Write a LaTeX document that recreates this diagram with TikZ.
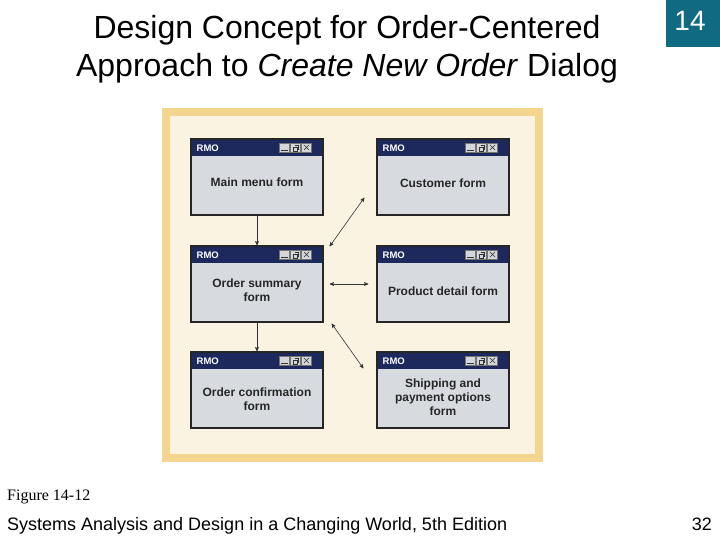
\documentclass[tikz,border=0pt]{standalone}
\usepackage{fontspec}
\setmainfont{Liberation Sans}
\newfontfamily\timesfont{Liberation Serif}
\usetikzlibrary{
  positioning,
  arrows
}
\definecolor{framegold}{HTML}{F3D590}
\definecolor{panelcream}{HTML}{FAF3E2}
\definecolor{formgray}{HTML}{D7DBE0}
\definecolor{barnavy}{HTML}{1D295C}
\definecolor{btngray}{HTML}{D4D6DA}
\definecolor{slideteal}{HTML}{0F6A82}
\tikzset{
  >=stealth',
  formwin/.style={draw=black!85, line width=1.3pt, fill=formgray,
    minimum width=132pt, minimum height=76pt, inner sep=0pt,
    path picture={
      \fill[barnavy] (path picture bounding box.north west)
        rectangle ([yshift=-17pt]path picture bounding box.north east);
      \node[anchor=west, text=white, font=\bfseries\fontsize{9.5}{10}\selectfont, inner sep=0pt,
            minimum width=0pt, minimum height=0pt, draw=none, fill=none, path picture={}]
        at ([xshift=5pt, yshift=-9.5pt]path picture bounding box.north west) {RMO};
      \foreach \bx in {-44,-33,-22}
        \draw[fill=btngray, draw=black!55, line width=.4pt]
          ([xshift=\bx pt, yshift=-4pt]path picture bounding box.north east) rectangle ++(10.5pt,-9pt);
      \draw[black!80, line width=.6pt]
        ([xshift=-42pt, yshift=-11.5pt]path picture bounding box.north east) -- ++(6.5pt,0pt);
      \draw[black!80, line width=.5pt]
        ([xshift=-30pt, yshift=-8pt]path picture bounding box.north east) rectangle ++(4pt,-4pt)
        ([xshift=-28.5pt, yshift=-6pt]path picture bounding box.north east) -- ++(4pt,0pt) -- ++(0pt,-4pt) -- ++(-1.5pt,0pt);
      \draw[black!80, line width=.6pt]
        ([xshift=-19pt, yshift=-6pt]path picture bounding box.north east) -- ++(5pt,-5pt)
        ([xshift=-14pt, yshift=-6pt]path picture bounding box.north east) -- ++(-5pt,-5pt);
    }},
  formtext/.style={font=\bfseries\fontsize{12}{14}\selectfont, text=black!85,
    align=center, inner sep=0pt},
  conn/.style={draw=black!80, line width=.6pt}
}

\begin{document}
\begin{tikzpicture}[x=1pt, y=-1pt]
  \useasboundingbox (0,0) rectangle (720,540);
  \fill[white] (0,0) rectangle (720,540);

  % slide header
  \node[font=\fontsize{32}{38}\selectfont, align=center] (title) at (347,49)
    {Design Concept for Order-Centered\\Approach to \textit{Create New Order} Dialog};
  \fill[slideteal] (666,0) rectangle (720,47);
  \node[text=white, font=\fontsize{28}{30}\selectfont] (chapter) at (690,21) {14};

  % figure panel
  \fill[framegold] (162,108) rectangle (543,462);
  \fill[panelcream] (170,116) rectangle (535,454);

  \node[formwin] (mainmenu) at (257,177) {};
  \node[formwin] (customer) at (443,177) {};
  \node[formwin] (ordersum) at (257,284) {};
  \node[formwin] (product) at (443,284) {};
  \node[formwin] (confirm) at (257,390) {};
  \node[formwin] (shipping) at (443,390) {};

  \node[formtext] (mainmenutext) at ([yshift=-5pt]mainmenu.center) {Main menu form};
  \node[formtext] (customertext) at ([yshift=-6pt]customer.center) {Customer form};
  \node[formtext] (ordersumtext) at ([yshift=-6pt]ordersum.center) {Order summary\\form};
  \node[formtext] (producttext) at ([yshift=-7pt]product.center) {Product detail form};
  \node[formtext] (confirmtext) at ([yshift=-9pt]confirm.center) {Order confirmation\\form};
  \node[formtext] (shippingtext) at ([yshift=-7pt]shipping.center) {Shipping and\\payment options\\form};

  \coordinate (cusA) at ([xshift=6pt, yshift=-1pt]ordersum.north east);
  \coordinate (cusB) at ([xshift=-12pt, yshift=18pt]customer.south west);
  \coordinate (shpA) at ([xshift=8pt, yshift=-1pt]ordersum.south east);
  \coordinate (shpB) at ([xshift=-13pt, yshift=-17pt]shipping.north west);

  \draw[conn, ->] (mainmenu) -- (ordersum);
  \draw[conn, ->] (ordersum) -- (confirm);
  \draw[conn, <->] (cusA) -- (cusB);
  \draw[conn, <->, shorten <=6pt, shorten >=8pt] (ordersum) -- (product);
  \draw[conn, <->] (shpA) -- (shpB);

  % footer
  \node[anchor=base west, font=\timesfont\fontsize{16}{18}\selectfont, inner sep=0pt] (figno) at (7,500) {Figure 14-12};
  \node[anchor=base west, font=\fontsize{18}{20}\selectfont, inner sep=0pt] (book) at (7,530)
    {Systems Analysis and Design in a Changing World, 5th Edition};
  \node[anchor=base east, font=\fontsize{18}{20}\selectfont, inner sep=0pt] (page) at (712,530) {32};
\end{tikzpicture}
\end{document}
